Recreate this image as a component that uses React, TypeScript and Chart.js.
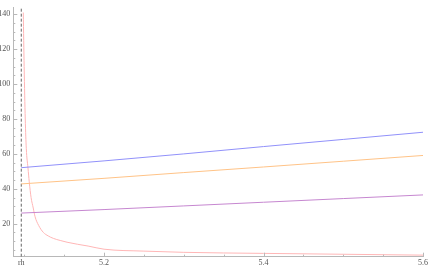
import React, { useEffect, useRef } from 'react';
import { Chart, registerables } from 'chart.js';

Chart.register(...registerables);

// ---- data ----
const RH = 5.0962;
const X_MIN = 5.0862;
const X_MAX = 5.6;
const Y_MIN = 1.1;
const Y_MAX = 143.7;

const xMajorTicks = [5.2, 5.4, 5.6];
const xMinorTicks = [5.1, 5.15, 5.25, 5.3, 5.35, 5.45, 5.5, 5.55];
const yMajorTicks = [20, 40, 60, 80, 100, 120, 140];
const yMinorTicks = [5, 10, 15, 25, 30, 35, 45, 50, 55, 65, 70, 75, 85, 90, 95, 105, 110, 115, 125, 130, 135];

const lineX = [RH, 5.2, 5.3, 5.4, 5.5, 5.6];
const blueY = [52.1, 56.0, 60.0, 64.2, 68.3, 72.4];
const orangeY = [42.8, 46.0, 49.3, 52.5, 55.8, 59.1];
const purpleY = [26.1, 28.1, 30.2, 32.3, 34.4, 36.5];

const pinkX = [5.0987, 5.0998, 5.1012, 5.1025, 5.1046, 5.1062, 5.1085, 5.1112, 5.1135, 5.118, 5.1239, 5.13, 5.1364, 5.145, 5.1536, 5.167, 5.18, 5.2, 5.25, 5.3, 5.4, 5.5, 5.6];
const pinkY = [141, 110, 80, 63, 52, 44, 35, 29, 24, 19, 15, 13, 11.6, 10.4, 9.4, 8.2, 7.2, 5.4, 4.3, 3.6, 3.0, 2.5, 2.0];

const toPts = (xs: number[], ys: number[]) => xs.map((x, i) => ({ x, y: ys[i] }));

const tickPlugin = {
  id: 'mmaTicks',
  afterDraw(chart: any) {
    const { ctx, chartArea, scales } = chart;
    const xs = scales.x;
    const ys = scales.y;
    ctx.save();
    ctx.strokeStyle = '#b8b8b8';
    ctx.lineWidth = 1;
    ctx.beginPath();
    yMajorTicks.forEach((v) => {
      const py = Math.round(ys.getPixelForValue(v)) + 0.5;
      ctx.moveTo(chartArea.left, py);
      ctx.lineTo(chartArea.left + 4, py);
    });
    yMinorTicks.forEach((v) => {
      const py = Math.round(ys.getPixelForValue(v)) + 0.5;
      ctx.moveTo(chartArea.left, py);
      ctx.lineTo(chartArea.left + 2, py);
    });
    xMajorTicks.forEach((v) => {
      const px = Math.round(xs.getPixelForValue(v)) + 0.5;
      ctx.moveTo(px, chartArea.bottom);
      ctx.lineTo(px, chartArea.bottom - 4);
    });
    xMinorTicks.forEach((v) => {
      const px = Math.round(xs.getPixelForValue(v)) + 0.5;
      ctx.moveTo(px, chartArea.bottom);
      ctx.lineTo(px, chartArea.bottom - 2);
    });
    ctx.stroke();
    ctx.restore();
  },
};

export default function App() {
  const ref = useRef<HTMLCanvasElement | null>(null);

  useEffect(() => {
    if (!ref.current) return;
    const lineStyle = (color: string) => ({
      borderColor: color,
      backgroundColor: color,
      borderWidth: 1,
      pointRadius: 0,
      fill: false,
    });
    const chart = new Chart(ref.current, {
      type: 'line',
      data: {
        datasets: [
          { data: toPts(lineX, blueY), ...lineStyle('rgb(145,145,250)') },
          { data: toPts(lineX, orangeY), ...lineStyle('rgb(255,195,135)') },
          { data: toPts(lineX, purpleY), ...lineStyle('rgb(198,135,208)') },
          { data: toPts(pinkX, pinkY), ...lineStyle('rgb(255,182,182)'), cubicInterpolationMode: 'monotone' },
          {
            data: [{ x: RH, y: Y_MIN }, { x: RH, y: Y_MAX }],
            ...lineStyle('#666666'),
            borderDash: [3, 2],
          },
        ],
      },
      options: {
        animation: false,
        responsive: false,
        maintainAspectRatio: false,
        layout: { padding: { top: 0, right: 8, left: 0, bottom: 0 } },
        plugins: { legend: { display: false }, tooltip: { enabled: false } },
        scales: {
          x: {
            type: 'linear',
            min: X_MIN,
            max: X_MAX,
            afterBuildTicks: (scale: any) => {
              scale.ticks = [{ value: RH }, ...xMajorTicks.map((v) => ({ value: v }))];
            },
            afterFit: (scale: any) => {
              scale.height = 10.3;
            },
            grid: { display: true, drawOnChartArea: false, drawTicks: false },
            border: { display: true, color: '#b8b8b8', width: 1 },
            ticks: {
              autoSkip: false,
              maxRotation: 0,
              padding: 1,
              color: '#555',
              font: { family: "'Liberation Serif', 'DejaVu Serif', serif", size: 8 },
              callback: (v: any) => (Math.abs(Number(v) - RH) < 1e-6 ? 'rh' : Number(v).toFixed(1)),
            },
          },
          y: {
            type: 'linear',
            min: Y_MIN,
            max: Y_MAX,
            afterBuildTicks: (scale: any) => {
              scale.ticks = yMajorTicks.map((v) => ({ value: v }));
            },
            afterFit: (scale: any) => {
              scale.width = 13.3;
            },
            grid: { display: true, drawOnChartArea: false, drawTicks: false },
            border: { display: true, color: '#b8b8b8', width: 1 },
            ticks: {
              autoSkip: false,
              padding: 3,
              color: '#555',
              font: { family: "'Liberation Serif', 'DejaVu Serif', serif", size: 8 },
              callback: (v: any) => String(v),
            },
          },
        },
      },
      plugins: [tickPlugin],
    } as any);
    return () => chart.destroy();
  }, []);

  return (
    <div style={{ position: 'absolute', left: 0, top: 0, width: 431, height: 267, background: '#fff' }}>
      <canvas ref={ref} width={431} height={267} style={{ width: 431, height: 267 }} />
    </div>
  );
}
